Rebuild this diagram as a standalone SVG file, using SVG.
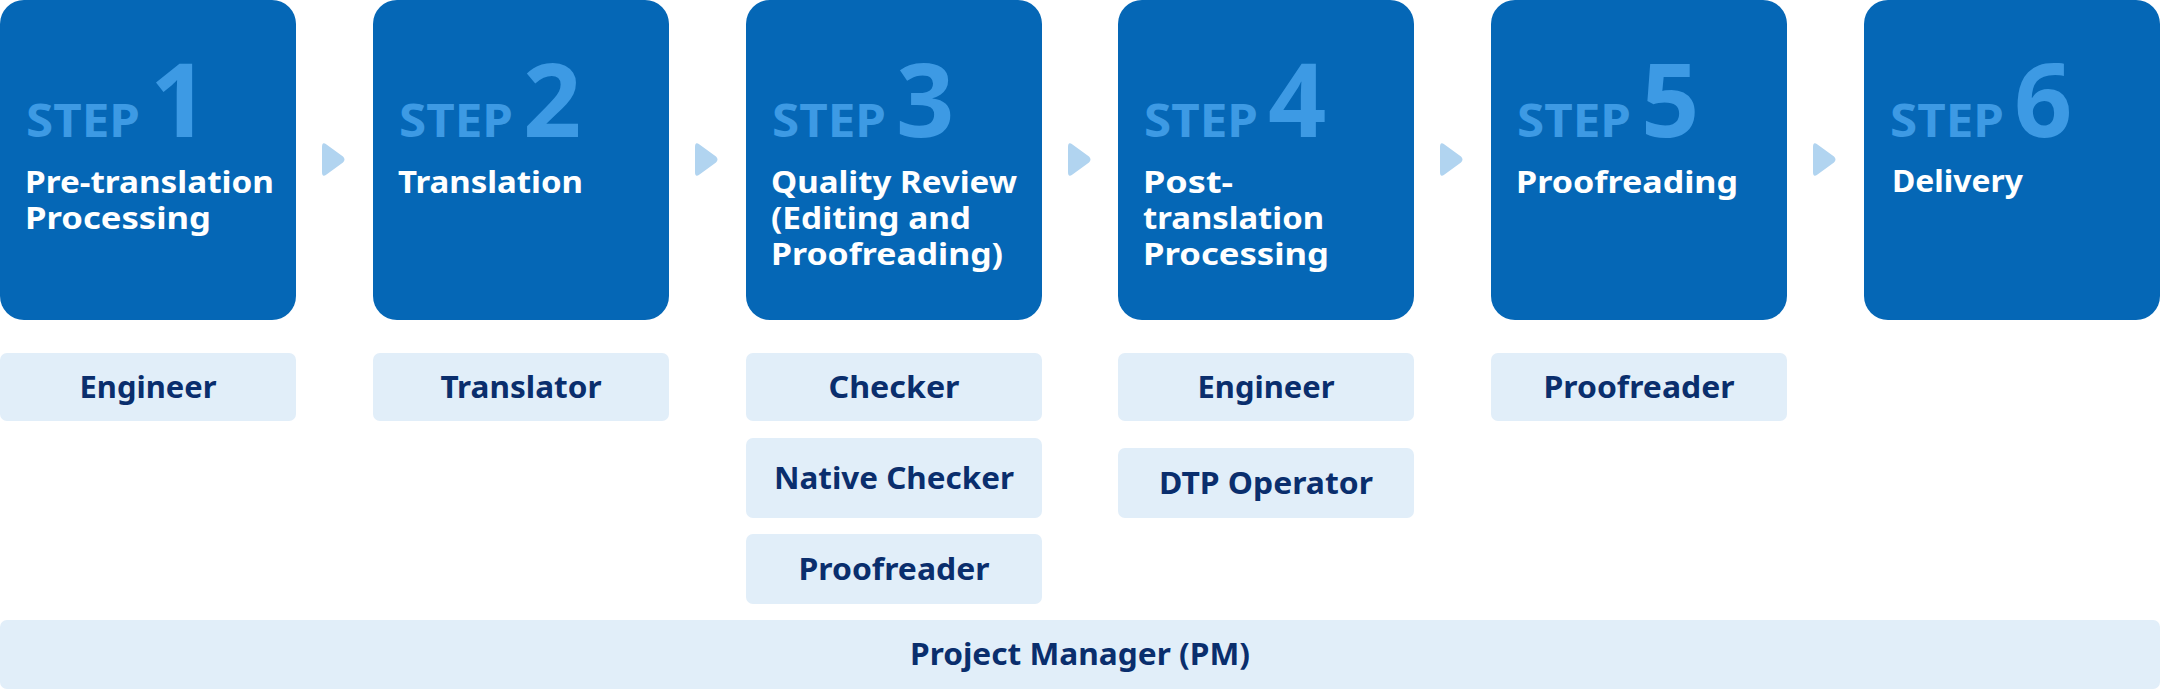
<svg xmlns="http://www.w3.org/2000/svg" xmlns:xlink="http://www.w3.org/1999/xlink" width="2160" height="690" viewBox="0 0 2160 690">
<style>
.box{fill:#0567b6}
.step{fill:#3d9ae4;font-family:"Noto Sans","Liberation Sans",sans-serif;font-weight:700;font-size:46px}
.num{fill:#3d9ae4;font-family:"Noto Sans","Liberation Sans",sans-serif;font-weight:700;font-size:102px}
.title{fill:#ffffff;font-family:"Noto Sans","Liberation Sans",sans-serif;font-weight:700;font-size:30px}
.role{fill:#e1eef9}
.rtext{fill:#0a2e6d;font-family:"Noto Sans","Liberation Sans",sans-serif;font-weight:700;font-size:30px;text-anchor:middle}
.arrow{fill:#b1d4f0}
</style>
<defs>
<path id="arr" class="arrow" d="M0,5 Q0,-1 4.5,2.5 L21,14.5 Q24,17.5 21,20.5 L4.5,32.5 Q0,36 0,30 Z"/>
</defs>
<g id="connectors">
<use xlink:href="#arr" x="322" y="142"/>
<use xlink:href="#arr" x="695" y="142"/>
<use xlink:href="#arr" x="1068" y="142"/>
<use xlink:href="#arr" x="1440" y="142"/>
<use xlink:href="#arr" x="1813" y="142"/>
</g>
<g id="step1">
<rect class="box" x="0" y="0" width="296" height="320" rx="24"/>
<text class="step" x="26" y="137" textLength="114" lengthAdjust="spacingAndGlyphs">STEP</text>
<text class="num" x="150" y="137">1</text>
<text class="title" x="25" y="193" textLength="249" lengthAdjust="spacingAndGlyphs">Pre-translation</text>
<text class="title" x="25" y="229" textLength="186" lengthAdjust="spacingAndGlyphs">Processing</text>
</g>
<g id="step2">
<rect class="box" x="373" y="0" width="296" height="320" rx="24"/>
<text class="step" x="399" y="137" textLength="114" lengthAdjust="spacingAndGlyphs">STEP</text>
<text class="num" x="523" y="137">2</text>
<text class="title" x="398" y="193" textLength="185" lengthAdjust="spacingAndGlyphs">Translation</text>
</g>
<g id="step3">
<rect class="box" x="746" y="0" width="296" height="320" rx="24"/>
<text class="step" x="772" y="137" textLength="114" lengthAdjust="spacingAndGlyphs">STEP</text>
<text class="num" x="896" y="137">3</text>
<text class="title" x="771" y="193" textLength="246" lengthAdjust="spacingAndGlyphs">Quality Review</text>
<text class="title" x="771" y="229" textLength="200" lengthAdjust="spacingAndGlyphs">(Editing and</text>
<text class="title" x="771" y="265" textLength="232" lengthAdjust="spacingAndGlyphs">Proofreading)</text>
</g>
<g id="step4">
<rect class="box" x="1118" y="0" width="296" height="320" rx="24"/>
<text class="step" x="1144" y="137" textLength="114" lengthAdjust="spacingAndGlyphs">STEP</text>
<text class="num" x="1268" y="137">4</text>
<text class="title" x="1143" y="193" textLength="90" lengthAdjust="spacingAndGlyphs">Post-</text>
<text class="title" x="1143" y="229" textLength="181" lengthAdjust="spacingAndGlyphs">translation</text>
<text class="title" x="1143" y="265" textLength="186" lengthAdjust="spacingAndGlyphs">Processing</text>
</g>
<g id="step5">
<rect class="box" x="1491" y="0" width="296" height="320" rx="24"/>
<text class="step" x="1517" y="137" textLength="114" lengthAdjust="spacingAndGlyphs">STEP</text>
<text class="num" x="1641" y="137">5</text>
<text class="title" x="1516" y="193" textLength="222" lengthAdjust="spacingAndGlyphs">Proofreading</text>
</g>
<g id="step6">
<rect class="box" x="1864" y="0" width="296" height="320" rx="24"/>
<text class="step" x="1890" y="137" textLength="114" lengthAdjust="spacingAndGlyphs">STEP</text>
<text class="num" x="2014" y="137">6</text>
<text class="title" x="1892" y="192" textLength="131" lengthAdjust="spacingAndGlyphs">Delivery</text>
</g>
<g id="role-engineer-1">
<rect class="role" x="0" y="353" width="296" height="68" rx="7"/>
<text class="rtext" x="148" y="398" textLength="137" lengthAdjust="spacingAndGlyphs">Engineer</text>
</g>
<g id="role-translator">
<rect class="role" x="373" y="353" width="296" height="68" rx="7"/>
<text class="rtext" x="521" y="398" textLength="161" lengthAdjust="spacingAndGlyphs">Translator</text>
</g>
<g id="role-checker">
<rect class="role" x="746" y="353" width="296" height="68" rx="7"/>
<text class="rtext" x="894" y="398" textLength="131" lengthAdjust="spacingAndGlyphs">Checker</text>
</g>
<g id="role-native-checker">
<rect class="role" x="746" y="438" width="296" height="80" rx="7"/>
<text class="rtext" x="894" y="489" textLength="240" lengthAdjust="spacingAndGlyphs">Native Checker</text>
</g>
<g id="role-proofreader-3">
<rect class="role" x="746" y="534" width="296" height="70" rx="7"/>
<text class="rtext" x="894" y="580" textLength="191" lengthAdjust="spacingAndGlyphs">Proofreader</text>
</g>
<g id="role-engineer-4">
<rect class="role" x="1118" y="353" width="296" height="68" rx="7"/>
<text class="rtext" x="1266" y="398" textLength="137" lengthAdjust="spacingAndGlyphs">Engineer</text>
</g>
<g id="role-dtp">
<rect class="role" x="1118" y="448" width="296" height="70" rx="7"/>
<text class="rtext" x="1266" y="494" textLength="214" lengthAdjust="spacingAndGlyphs">DTP Operator</text>
</g>
<g id="role-proofreader-5">
<rect class="role" x="1491" y="353" width="296" height="68" rx="7"/>
<text class="rtext" x="1639" y="398" textLength="191" lengthAdjust="spacingAndGlyphs">Proofreader</text>
</g>
<g id="role-pm">
<rect class="role" x="0" y="620" width="2160" height="69" rx="7"/>
<text class="rtext" x="1080" y="665" textLength="340" lengthAdjust="spacingAndGlyphs">Project Manager (PM)</text>
</g>
</svg>
